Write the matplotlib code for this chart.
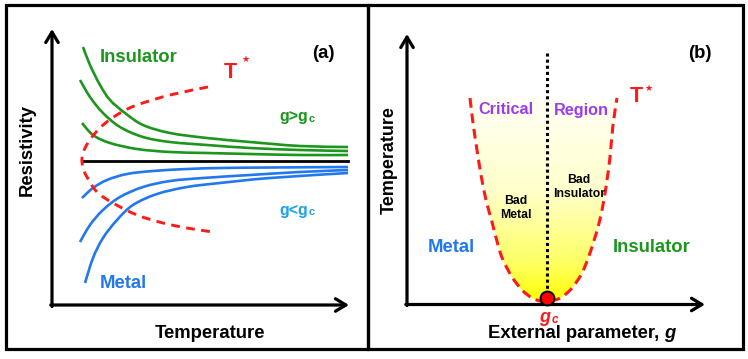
import numpy as np
import matplotlib
matplotlib.use("Agg")
import matplotlib.pyplot as plt
from matplotlib.patches import Rectangle, Polygon, PathPatch
from matplotlib.path import Path
from matplotlib.colors import LinearSegmentedColormap

plt.rcParams['font.family'] = ['Liberation Sans', 'DejaVu Sans']

# ---------------- data (figure-pixel coordinates) -------------
# Panel (a): resistivity vs temperature
ins1_x = [83, 90, 100, 110, 125, 143, 170, 207, 250, 300, 348]
ins1_y = [47, 65, 85, 100, 113, 125, 133, 138, 142, 146, 147]
ins2_x = [80, 90, 103, 120, 143, 170, 207, 250, 300, 348]
ins2_y = [80, 97, 113, 127, 137, 142, 145, 148, 150, 151]
ins3_x = [82, 93, 110, 137, 170, 207, 250, 300, 348]
ins3_y = [123, 135, 143, 149, 152, 153, 154, 155, 155]
crit_x = [82, 348]
crit_y = [161, 161]
met1_x = [82, 93, 107, 127, 153, 187, 220, 270, 348]
met1_y = [198, 188, 180, 174, 171, 169, 168, 167.5, 167]
met2_x = [80, 90, 103, 120, 143, 170, 203, 250, 300, 348]
met2_y = [242, 225, 210, 197, 187, 181, 178, 175, 172, 170]
met3_x = [85, 93, 103, 117, 133, 157, 187, 220, 270, 348]
met3_y = [283, 258, 238, 220, 205, 194, 187, 183, 178, 173]
tstar_a_x = [208, 170, 137, 120, 103, 92, 85, 82, 83, 87, 97, 113, 137, 163, 187, 213]
tstar_a_y = [87, 95, 105, 113, 125, 137, 148, 158, 168, 177, 192, 203, 215, 223, 228, 232]

# Panel (b): temperature vs external parameter
left_x = [470, 473, 477, 481, 486, 492, 498, 503, 512, 522, 532, 540, 547]
left_y = [98, 123, 150, 175, 200, 222, 245, 260, 277, 290, 298, 301, 302]
right_x = [555, 562, 572, 582, 590, 598, 603, 607, 610, 613, 617]
right_y = [300, 297, 288, 273, 253, 227, 205, 180, 157, 125, 98]
gc_x = 547
gc_y = 298
gc_line_top = 53

# ---------------- figure ----------------
W, H = 748, 359
fig = plt.figure(figsize=(W / 100, H / 100), dpi=100)
ax = fig.add_axes([0, 0, 1, 1])
ax.set_axis_off()

GREEN = '#1c961c'
BLUE = '#2278ee'
CYAN = '#1ca4e6'
RED = '#ff1a1a'
PURPLE = '#9c3cf2'


def smooth_path(xs, ys):
    """Smooth path through the read points (Catmull-Rom as cubic Bezier segments)."""
    p = np.column_stack([xs, ys]).astype(float)
    ext = np.vstack([p[0], p, p[-1]])
    verts = [p[0]]
    codes = [Path.MOVETO]
    for i in range(1, len(ext) - 2):
        p0, p1, p2, p3 = ext[i - 1], ext[i], ext[i + 1], ext[i + 2]
        c1 = p1 + (p2 - p0) / 6.0
        c2 = p2 - (p3 - p1) / 6.0
        verts += [c1, c2, p2]
        codes += [Path.CURVE4] * 3
    return Path(verts, codes)


def curve(xs, ys, color, lw, ls='solid', z=2):
    ax.add_patch(PathPatch(smooth_path(xs, ys), fill=False, ec=color, lw=lw,
                           linestyle=ls, capstyle='butt', zorder=z))


# frames
ax.add_patch(Rectangle((6.5, 5), 362, 343.5, fill=False, lw=2.3, ec='k'))
ax.add_patch(Rectangle((368.5, 5), 375, 343.5, fill=False, lw=2.3, ec='k'))

arrow = dict(arrowstyle='->,head_length=0.75,head_width=0.45', lw=2.3, color='k',
             shrinkA=0, shrinkB=0)
# panel (a) axes
ax.annotate('', xy=(52, 29), xytext=(52, 306.5), arrowprops=arrow)
ax.annotate('', xy=(349, 305), xytext=(50.8, 305), arrowprops=arrow)
# panel (b) axes
ax.annotate('', xy=(407, 34), xytext=(407, 305.5), arrowprops=arrow)
ax.annotate('', xy=(705, 304.5), xytext=(405.8, 304.5), arrowprops=arrow)

# panel (a) curves
for xs, ys in [(ins1_x, ins1_y), (ins2_x, ins2_y), (ins3_x, ins3_y)]:
    curve(xs, ys, GREEN, 1.9)
for xs, ys in [(met1_x, met1_y), (met2_x, met2_y), (met3_x, met3_y)]:
    curve(xs, ys, BLUE, 1.9)
ax.plot(crit_x, crit_y, color='k', lw=2.0)
curve(tstar_a_x, tstar_a_y, RED, 2.1, ls=(0, (3.0, 2.2)), z=3)

# panel (b) gradient region
poly_x = left_x + right_x
poly_y = left_y + right_y
clip = PathPatch(smooth_path(poly_x, poly_y), transform=ax.transData)
cmap = LinearSegmentedColormap.from_list(
    'yel', [(0.0, '#fffff6'), (0.45, '#ffffcc'), (0.8, '#ffff66'), (1.0, '#ffff00')])
grad = np.linspace(0, 1, 256).reshape(-1, 1)
im = ax.imshow(grad, cmap=cmap, extent=[460, 630, 303, 97], aspect='auto',
               interpolation='bilinear', zorder=1)
im.set_clip_path(clip)

curve(poly_x, poly_y, RED, 2.2, ls=(0, (3.2, 1.9)), z=3)
ax.plot([gc_x, gc_x], [gc_line_top, gc_y], color='k', lw=2.2, dashes=(1, 1), zorder=3)
ax.plot([gc_x], [gc_y], 'o', ms=10, mfc='#ff0000', mec='k', mew=1.4, zorder=4)

ax.set_xlim(0, W)
ax.set_ylim(H, 0)


# ---------------- texts ----------------
def t(x, y, s, size, color='k', **kw):
    ax.text(x, y, s, fontsize=size, color=color, ha=kw.pop('ha', 'center'),
            va=kw.pop('va', 'center'), fontweight=kw.pop('fontweight', 'bold'), **kw)


# panel (a)
t(139, 58, 'Insulator', 13.3, GREEN)
t(123, 284, 'Metal', 13.3, BLUE)
t(230, 72, 'T', 15.5, RED)
t(245, 59, '\u2605', 6.5, RED, family=['DejaVu Sans'])
t(323, 54, '(a)', 13.3)
t(294, 117, 'g>g', 11.5, GREEN)
t(312, 119, 'c', 8, GREEN)
t(294, 210, 'g<g', 11.5, CYAN)
t(312, 212, 'c', 8, CYAN)
t(27, 150, 'Resistivity', 13.3, rotation=90)
t(210, 333, 'Temperature', 13.3)

# panel (b)
t(506, 110, 'Critical', 11.7, PURPLE)
t(581, 110, 'Region', 11.7, PURPLE)
t(636, 97, 'T', 15.5, RED)
t(648, 88, '\u2605', 6.5, RED, family=['DejaVu Sans'])
t(700, 53, '(b)', 13.3)
t(579, 187, 'Bad\nInsulator', 8.8, linespacing=1.15)
t(516, 208, 'Bad\nMetal', 8.8, linespacing=1.15)
t(451, 248, 'Metal', 13.3, BLUE)
t(652, 248, 'Insulator', 13.3, GREEN)
t(545, 318, 'g', 13, RED, style='italic')
t(555, 320, 'c', 8.5, RED, style='italic')
xl = ax.text(488, 334, 'External parameter, ', fontsize=13.3, fontweight='bold',
             ha='left', va='center')
t(389, 160, 'Temperature', 13.0, rotation=90)

# italic g at end of x label
fig.canvas.draw()
r = fig.canvas.get_renderer()
bb = xl.get_window_extent(r)
x_end = ax.transData.inverted().transform((bb.x1, bb.y0))[0]
ax.text(x_end, 334, 'g', fontsize=13.3, fontweight='bold', style='italic',
        ha='left', va='center')

fig.savefig('out.png', dpi=100)
